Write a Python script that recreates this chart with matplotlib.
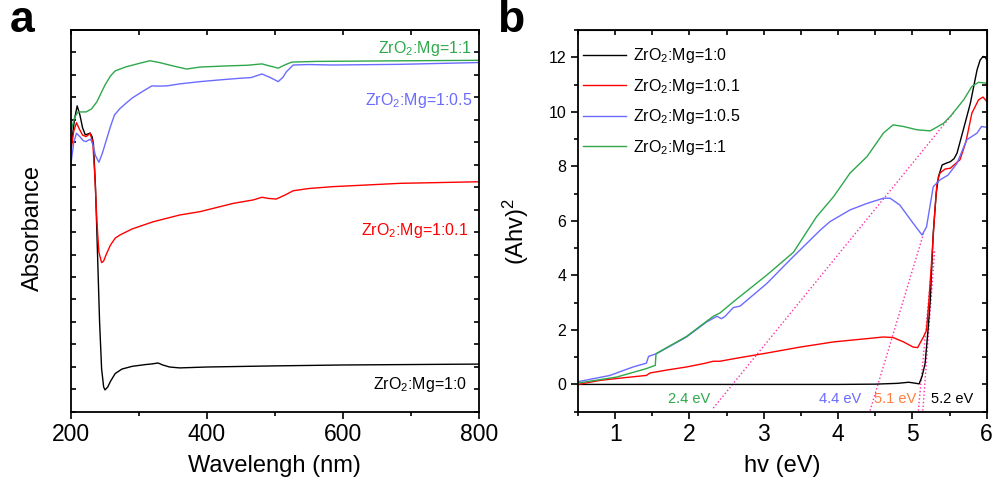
import matplotlib
matplotlib.use('Agg')
import matplotlib.pyplot as plt
from matplotlib.ticker import MultipleLocator

plt.rcParams['font.family'] = ['Liberation Sans', 'DejaVu Sans']
plt.rcParams['mathtext.fontset'] = 'custom'
plt.rcParams['mathtext.rm'] = 'Liberation Sans'
plt.rcParams['mathtext.it'] = 'Liberation Sans:italic'
plt.rcParams['mathtext.default'] = 'regular'

# colours
c_black = 'black'
c_red = '#ff0000'
c_blue = '#6b6bff'
c_green = '#2ea84a'
c_tan = '#ff2da6'

labels = ['ZrO$_2$:Mg=1:0', 'ZrO$_2$:Mg=1:0.1', 'ZrO$_2$:Mg=1:0.5', 'ZrO$_2$:Mg=1:1']

# ---- panel a : absorbance (a.u.) vs wavelength (nm)
a_black_nm = [200, 205, 209, 213, 217, 221, 225, 228, 231, 233, 236, 239, 242, 245, 248, 250, 254,
              258, 265, 275, 290, 310, 320, 328, 335, 345, 360, 380, 400, 500, 600, 700, 800]
a_black = [1.18, 1.30, 1.362, 1.322, 1.264, 1.233, 1.237, 1.241, 1.225, 1.19, 1.0, 0.70, 0.40, 0.19,
           0.11, 0.097, 0.11, 0.135, 0.170, 0.190, 0.202, 0.210, 0.213, 0.217, 0.208, 0.199, 0.195,
           0.197, 0.199, 0.204, 0.208, 0.210, 0.212]

a_red_nm = [200, 204, 208, 212, 217, 222, 225, 228, 232, 235, 238, 241, 245, 248, 252, 258, 265, 272,
            290, 321, 360, 390, 439, 468, 481, 490, 502, 515, 527, 550, 584, 684, 800]
a_red = [1.166, 1.25, 1.287, 1.26, 1.232, 1.225, 1.232, 1.240, 1.20, 1.05, 0.85, 0.71, 0.664, 0.671,
         0.702, 0.742, 0.773, 0.787, 0.814, 0.846, 0.876, 0.891, 0.928, 0.943, 0.955, 0.950, 0.947,
         0.965, 0.984, 0.994, 1.002, 1.017, 1.024]

a_blue_nm = [200, 204, 208, 213, 218, 222, 226, 229, 232, 236, 241, 246, 252, 258, 264, 272, 281, 290,
             301, 310, 319, 330, 341, 360, 390, 420, 449, 465, 481, 492, 505, 512, 517, 527, 550, 585,
             684, 800]
a_blue = [1.107, 1.20, 1.240, 1.225, 1.207, 1.203, 1.21, 1.213, 1.19, 1.14, 1.111, 1.15, 1.210, 1.27,
          1.322, 1.35, 1.374, 1.397, 1.418, 1.435, 1.451, 1.450, 1.451, 1.46, 1.470, 1.478, 1.485,
          1.488, 1.504, 1.49, 1.470, 1.49, 1.514, 1.544, 1.546, 1.544, 1.547, 1.555]

a_green_nm = [200, 205, 210, 216, 222, 230, 238, 245, 250, 258, 265, 280, 300, 316, 330, 350, 370, 390,
              430, 460, 481, 492, 505, 515, 525, 560, 650, 800]
a_green = [1.25, 1.308, 1.335, 1.335, 1.335, 1.348, 1.380, 1.424, 1.455, 1.495, 1.518, 1.535, 1.551,
           1.563, 1.555, 1.540, 1.526, 1.535, 1.540, 1.543, 1.549, 1.540, 1.530, 1.545, 1.557, 1.560,
           1.562, 1.565]

# ---- panel b : (Ahv)^2 vs hv (eV)
b_black_ev = [0.5, 1.0, 2.0, 3.0, 4.0, 4.5, 4.8, 4.95, 5.05, 5.09, 5.13, 5.17, 5.21, 5.24, 5.28, 5.32,
              5.35, 5.40, 5.46, 5.51, 5.56, 5.60, 5.66, 5.72, 5.78, 5.83, 5.87, 5.91, 5.95, 5.98, 6.0]
b_black = [0, 0, 0, 0, 0, 0.01, 0.04, 0.08, 0.04, 0.02, 0.3, 0.76, 2.0, 3.09, 5.54, 7.0, 7.62, 8.05,
           8.12, 8.17, 8.28, 8.48, 9.09, 9.7, 10.32, 11.0, 11.54, 11.89, 12.03, 12.0, 11.9]

b_red_ev = [0.5, 0.8, 1.1, 1.42, 1.47, 1.7, 1.96, 2.2, 2.32, 2.41, 2.59, 3.04, 3.49, 3.94, 4.39, 4.61,
            4.74, 4.88, 5.01, 5.07, 5.10, 5.15, 5.19, 5.22, 5.26, 5.30, 5.33, 5.37, 5.44, 5.51, 5.64,
            5.72, 5.80, 5.89, 5.95, 6.0]
b_red = [0, 0.15, 0.24, 0.33, 0.42, 0.53, 0.64, 0.77, 0.85, 0.85, 0.94, 1.15, 1.37, 1.56, 1.68, 1.74,
         1.72, 1.56, 1.37, 1.35, 1.50, 1.75, 1.99, 3.0, 4.6, 6.3, 7.38, 7.75, 7.90, 7.93, 8.24, 8.9,
         9.95, 10.44, 10.54, 10.38]

b_blue_ev = [0.5, 0.93, 1.24, 1.42, 1.45, 1.56, 1.96, 2.23, 2.37, 2.43, 2.48, 2.59, 2.68, 3.04, 3.35,
             3.76, 3.89, 4.16, 4.39, 4.61, 4.70, 4.83, 5.01, 5.13, 5.19, 5.24, 5.28, 5.37, 5.48, 5.60,
             5.73, 5.87, 5.93, 6.0]
b_blue = [0.1, 0.33, 0.64, 0.78, 1.03, 1.13, 1.74, 2.29, 2.50, 2.41, 2.50, 2.82, 2.87, 3.70, 4.56,
          5.66, 5.97, 6.40, 6.64, 6.83, 6.83, 6.58, 5.91, 5.48, 5.78, 6.6, 7.25, 7.5, 7.68, 8.11, 8.97,
          9.22, 9.46, 9.43]

b_green_ev = [0.5, 1.02, 1.42, 1.54, 1.55, 1.96, 2.32, 2.41, 2.59, 3.04, 3.40, 3.71, 3.94, 4.16, 4.39,
              4.61, 4.74, 4.88, 5.06, 5.24, 5.42, 5.51, 5.69, 5.80, 5.89, 6.0]
b_green = [0.05, 0.27, 0.58, 0.70, 1.13, 1.76, 2.50, 2.62, 3.03, 4.01, 4.85, 6.15, 6.89, 7.75, 8.36,
           9.22, 9.52, 9.46, 9.34, 9.30, 9.58, 9.83, 10.44, 10.93, 11.08, 11.05]

# tangent (Tauc) lines: endpoints (x0, y0, x1, y1)
tangents = [(2.32, -0.87, 5.57, 10.02),
            (4.43, -0.96, 5.15, 5.54),
            (5.08, -0.96, 5.28, 4.93),
            (5.14, -0.96, 5.30, 4.93)]

gaps = ['2.4 eV', '4.4 eV', '5.1 eV', '5.2 eV']
gap_x = [1.99, 4.03, 4.77, 5.53]
gap_colors = [c_green, c_blue, '#ff7f3f', c_black]

fig = plt.figure(figsize=(9.95, 4.86), dpi=100)
ax1 = fig.add_axes([0.0714, 0.1529, 0.4097, 0.7854])
ax2 = fig.add_axes([0.5809, 0.1529, 0.4108, 0.7854])

lw = 1.0
ax1.plot(a_black_nm, a_black, color=c_black, lw=lw)
ax1.plot(a_red_nm, a_red, color=c_red, lw=lw)
ax1.plot(a_blue_nm, a_blue, color=c_blue, lw=lw)
ax1.plot(a_green_nm, a_green, color=c_green, lw=lw)

ax1.set_xlim(200, 800)
ax1.set_ylim(0, 1.7)
ax1.xaxis.set_major_locator(MultipleLocator(200))
ax1.xaxis.set_minor_locator(MultipleLocator(100))
ax1.yaxis.set_major_locator(MultipleLocator(0.1))
ax1.set_yticklabels([])
ax1.tick_params(axis='x', which='both', direction='out', top=False, labelsize=16.5, width=1.2)
ax1.tick_params(axis='x', which='major', length=5)
ax1.tick_params(axis='x', which='minor', length=3)
ax1.tick_params(axis='y', which='both', direction='in', right=True, length=3.5, width=1.2)
# inward ticks along the top edge
top1 = ax1.secondary_xaxis('top')
top1.xaxis.set_major_locator(MultipleLocator(100))
top1.tick_params(direction='in', length=3.5, width=1.2, labeltop=False)
top1.spines['top'].set_linewidth(1.3)

ax1.set_xlabel('Wavelengh (nm)', fontsize=17, labelpad=6)
ax1.set_ylabel('Absorbance', fontsize=17)
ax1.yaxis.set_label_coords(-0.066, 0.48)

tfs = 11.5
ax1.text(790, 1.616, labels[3], color=c_green, fontsize=tfs, ha='right', va='center')
ax1.text(791, 1.388, labels[2], color=c_blue, fontsize=tfs, ha='right', va='center')
ax1.text(784, 0.809, labels[1], color=c_red, fontsize=tfs, ha='right', va='center')
ax1.text(783, 0.123, labels[0], color=c_black, fontsize=tfs, ha='right', va='center')

# panel b
for x0, y0, x1, y1 in tangents:
    ax2.plot([x0, x1], [y0, y1], color=c_tan, lw=1.0, ls=':')
ax2.plot(b_black_ev, b_black, color=c_black, lw=lw, label=labels[0])
ax2.plot(b_red_ev, b_red, color=c_red, lw=lw, label=labels[1])
ax2.plot(b_blue_ev, b_blue, color=c_blue, lw=lw, label=labels[2])
ax2.plot(b_green_ev, b_green, color=c_green, lw=lw, label=labels[3])

ax2.set_xlim(0.5, 6)
ax2.set_ylim(-1, 13)
ax2.xaxis.set_major_locator(MultipleLocator(1))
ax2.xaxis.set_minor_locator(MultipleLocator(0.5))
ax2.yaxis.set_major_locator(MultipleLocator(2))
ax2.yaxis.set_minor_locator(MultipleLocator(1))
ax2.tick_params(axis='x', which='both', direction='out', top=False, labelsize=16.5, width=1.2)
ax2.tick_params(axis='x', which='major', length=5)
ax2.tick_params(axis='x', which='minor', length=3)
ax2.tick_params(axis='y', which='both', direction='out', right=False, labelsize=11.5, width=1.2)
ax2.tick_params(axis='y', which='major', length=5)
ax2.tick_params(axis='y', which='minor', length=3)
top2 = ax2.secondary_xaxis('top')
top2.xaxis.set_major_locator(MultipleLocator(0.5))
top2.tick_params(direction='in', length=3.5, width=1.2, labeltop=False)
right2 = ax2.secondary_yaxis('right')
right2.yaxis.set_major_locator(MultipleLocator(1))
right2.tick_params(direction='in', length=3.5, width=1.2, labelright=False)

ax2.set_xlabel('hv (eV)', fontsize=17, labelpad=6)
ax2.set_ylabel('(Ahv)$^2$', fontsize=17)
ax2.yaxis.set_label_coords(-0.115, 0.473)

for txt, x, col in zip(gaps, gap_x, gap_colors):
    ax2.text(x, -0.55, txt, color=col, fontsize=10.5, ha='center', va='center')

ax2.legend(loc='upper left', bbox_to_anchor=(0.012, 0.957), frameon=False, fontsize=11.5,
           handlelength=2.7, handletextpad=0.45, labelspacing=0.72, borderpad=0, borderaxespad=0)

for ax in (ax1, ax2):
    for sp in ax.spines.values():
        sp.set_linewidth(1.3)

fig.text(0.010, 0.915, 'a', fontsize=32, fontweight='bold', va='bottom')
fig.text(0.500, 0.915, 'b', fontsize=32, fontweight='bold', va='bottom')

fig.savefig('out.png', dpi=100)
